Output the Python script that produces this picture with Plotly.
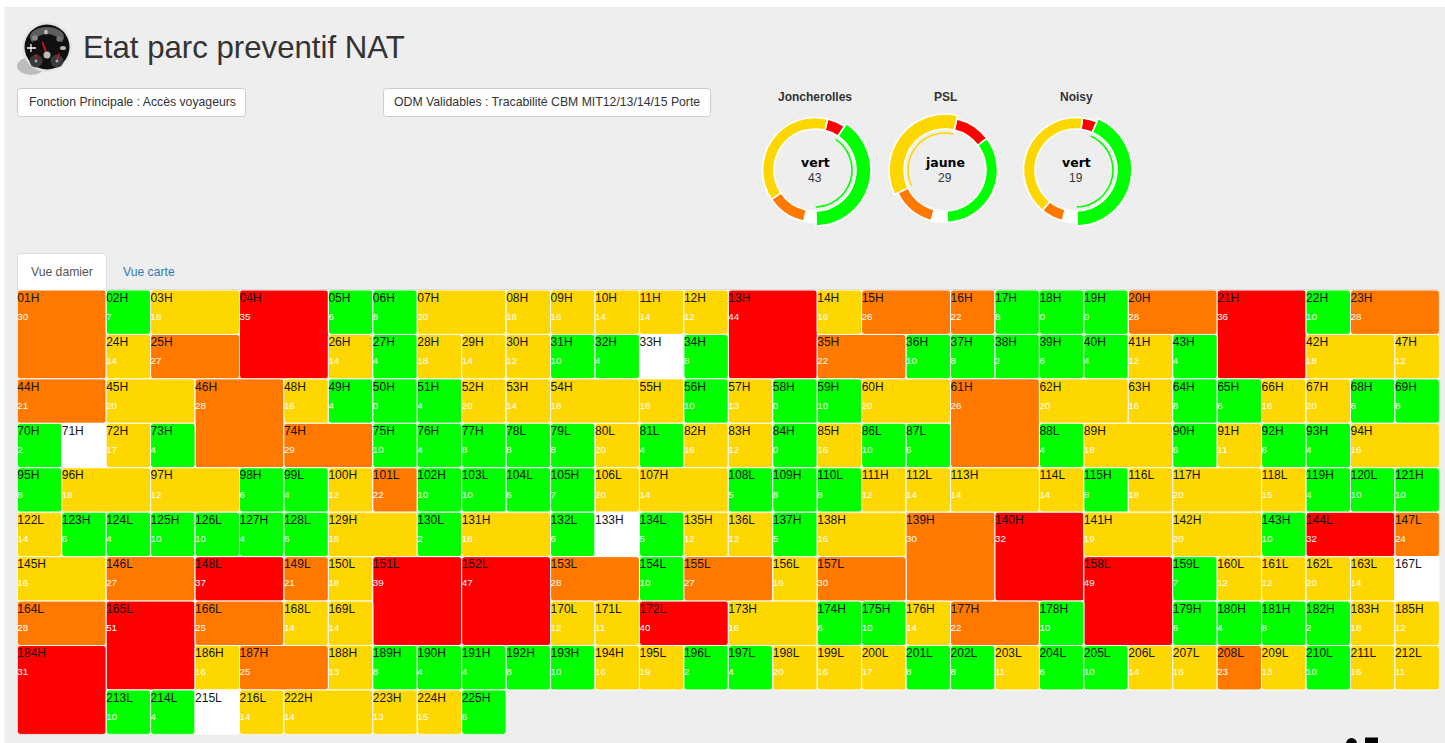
import plotly.graph_objects as go

W, H = 1445, 743
GRID_L, GRID_T, CELL = 17.3, 290.0, 44.44
COLS, ROWS = 32, 10

cell_names = """01H 02H 03H 04H 05H 06H 07H 08H 09H 10H 11H 12H 13H 14H 15H 16H 17H 18H 19H 20H 21H 22H 23H
24H 25H 26H 27H 28H 29H 30H 31H 32H 33H 34H 35H 36H 37H 38H 39H 40H 41H 42H 43H 44H 45H 46H 47H 48H 49H 50H
51H 52H 53H 54H 55H 56H 57H 58H 59H 60H 61H 62H 63H 64H 65H 66H 67H 68H 69H 70H 71H 72H 73H 74H 75H 76H 77H
78L 79L 80L 81L 82H 83H 84H 85H 86L 87L 88L 89H 90H 91H 92H 93H 94H 95H 96H 97H 98H 99L 100H 101L 102H 103L
104L 105H 106L 107H 108L 109H 110L 111H 112L 113H 114L 115H 116L 117H 118L 119H 120L 121H 122L 123H 124L 125H
126L 127H 128L 129H 130L 131H 132L 133H 134L 135H 136L 137H 138H 139H 140H 141H 142H 143H 144L 145H 146L 147L
148L 149L 150L 151L 152L 153L 154L 155L 156L 157L 158L 159L 160L 161L 162L 163L 164L 165L 166L 167L 168L 169L
170L 171L 172L 173H 174H 175H 176H 177H 178H 179H 180H 181H 182H 183H 184H 185H 186H 187H 188H 189H 190H 191H
192H 193H 194H 195L 196L 197L 198L 199L 200L 201L 202L 203L 204L 205L 206L 207L 208L 209L 210L 211L 212L
213L 214L 215L 216L 222H 223H 224H 225H""".split()

cell_values = [30,7,18,35,6,8,20,18,16,14,14,12,44,16,26,22,8,0,0,28,36,10,28,
14,27,14,4,18,14,12,10,4,None,8,22,10,8,2,6,4,12,18,4,21,20,28,12,16,4,0,
4,20,14,18,18,10,13,0,10,20,26,20,16,8,6,16,20,8,8,2,None,17,4,29,10,4,8,
8,8,20,4,16,12,0,16,10,6,4,18,6,11,6,4,16,8,18,12,6,4,12,22,10,10,
6,7,20,14,5,8,8,12,14,14,14,8,18,20,15,4,10,10,14,6,4,10,
10,4,6,18,2,18,6,None,5,12,12,5,16,30,32,19,20,10,32,16,27,24,
37,21,18,39,47,28,10,27,16,30,49,7,12,12,20,14,28,51,25,None,14,14,
12,11,40,16,6,10,14,22,10,6,4,8,2,18,31,12,16,25,13,8,4,4,
8,10,16,19,2,4,20,16,17,8,8,11,6,10,14,16,23,13,10,16,11,
10,4,None,14,14,13,15,6]

# g = vert, y = jaune, o = orange, r = rouge, w = sans donnee
cell_states = list(
 "o g y r g g y y y y y y r y o o g g g o r g o "
 "y o y g y y y g g w g o g g g g g y y g o y o y y g g "
 "g y y y y g y g g y o y y g g y y g g g w y g o g g g "
 "g g y g y y g y g g g y g y g g y g y y g g y o g g "
 "g g y y g g g y y y y g y y y g g g y g g g "
 "g g g y g y g w g y y g y o r y y g r y o o "
 "r o y r r o g o y o r g y y y y o r o w y y "
 "y y r y g g y o g g g g g y r y y o y g g g "
 "g g y y g g y y y g g y g g y y o y g y y "
 "g g w y y y y g".split())

# 1 = simple, 2 = double largeur, 4 = double largeur et hauteur
cell_tiers = list(
 "4 1 2 4 1 1 2 1 1 1 1 1 4 1 2 1 1 1 1 2 4 1 2 "
 "1 2 1 1 1 1 1 1 1 1 1 2 1 1 1 1 1 1 2 1 2 2 4 1 1 1 1 "
 "1 1 1 2 1 1 1 1 1 2 4 2 1 1 1 1 1 1 1 1 1 1 1 2 1 1 1 "
 "1 1 1 1 1 1 1 1 1 1 1 2 1 1 1 1 2 1 2 2 1 1 1 1 1 1 "
 "1 1 1 2 1 1 1 1 1 2 1 1 1 2 1 1 1 1 1 1 1 1 "
 "1 1 1 2 1 2 1 1 1 1 1 1 2 4 4 2 2 1 2 2 2 1 "
 "2 1 1 4 4 2 1 2 1 2 4 1 1 1 1 1 2 4 2 1 1 1 "
 "1 1 2 2 1 1 1 2 1 1 1 1 1 1 4 1 1 2 1 1 1 1 "
 "1 1 1 1 1 1 1 1 1 1 1 1 1 1 1 1 1 1 1 1 1 "
 "1 1 1 1 2 1 1 1".split())

state_colors = {"g": "#00ff00", "y": "#ffd700", "o": "#ff7800", "r": "#ff0000", "w": "#ffffff"}

site_names = ["Joncherolles", "PSL", "Noisy"]
site_labels = ["vert", "jaune", "vert"]
site_headline = [43, 29, 19]
ring_states = ["r", "g", "w", "o", "y"]
site_red = [6, 9, 2]
site_green = [43, 28, 19]
site_white = [4, 4, 2]
site_orange = [13, 11, 3]
site_yellow = [41, 29, 18]
site_start_deg = [14, 13, 7]
site_selected = ["g", "y", "g"]
site_center_px = [815, 945, 1076]
site_center_y = 170


def px(x):
    return x / W


def py(y):
    return 1 - y / H


def rrect(x0, y0, x1, y1, r=3):
    a, b, c, d = px(x0), px(x1), py(y0), py(y1)
    rx, ry = r / W, r / H
    return (f"M {a+rx} {c} L {b-rx} {c} Q {b} {c} {b} {c-ry} L {b} {d+ry} Q {b} {d} {b-rx} {d} "
            f"L {a+rx} {d} Q {a} {d} {a} {d+ry} L {a} {c-ry} Q {a} {c} {a+rx} {c} Z")


def shape_path(x0, y0, x1, y1, fill, line=None, r=3):
    return dict(type="path", xref="paper", yref="paper", path=rrect(x0, y0, x1, y1, r), fillcolor=fill,
                line=dict(color=line or fill, width=1 if line else 0), layer="below")


def circle(cx, cy, rx, ry, fill, layer="above"):
    return dict(type="circle", xref="paper", yref="paper", x0=px(cx - rx), x1=px(cx + rx), y0=py(cy + ry), y1=py(cy - ry),
                fillcolor=fill, line=dict(width=0), layer=layer)


def seg(x0, y0, x1, y1, color, width):
    return dict(type="line", xref="paper", yref="paper", x0=px(x0), y0=py(y0), x1=px(x1), y1=py(y1),
                line=dict(color=color, width=width))


def pack(tiers):
    """First-fit placement of the cells on the grid, in list order."""
    used = set()
    out = []
    for t in tiers:
        w = 1 if t == "1" else 2
        h = 2 if t == "4" else 1
        r = 0
        placed = False
        while not placed:
            for c in range(COLS - w + 1):
                cells = {(r + j, c + i) for j in range(h) for i in range(w)}
                if not cells & used:
                    used |= cells
                    out.append((c, r, w, h))
                    placed = True
                    break
            r += 1
    return out


layout_cells = pack(cell_tiers)
fig = go.Figure()

fig.add_trace(go.Bar(
    x=[c + w / 2 for c, r, w, h in layout_cells],
    width=[w for c, r, w, h in layout_cells],
    base=[r for c, r, w, h in layout_cells],
    y=[h for c, r, w, h in layout_cells],
    marker=dict(color=[state_colors[s] for s in cell_states], line=dict(color="#ffffff", width=1), cornerradius=3),
    hoverinfo="skip", showlegend=False, xaxis="x", yaxis="y"))

fig.add_trace(go.Scatter(
    x=[c + 0.0 for c, r, w, h in layout_cells],
    y=[r + 0.195 for c, r, w, h in layout_cells],
    text=cell_names, mode="text", textposition="middle right",
    textfont=dict(family="Liberation Sans", size=12, color="#141414"),
    hoverinfo="skip", showlegend=False))

fig.add_trace(go.Scatter(
    x=[c + 0.0 for (c, r, w, h), v in zip(layout_cells, cell_values) if v is not None],
    y=[r + 0.615 for (c, r, w, h), v in zip(layout_cells, cell_values) if v is not None],
    text=[str(v) for v in cell_values if v is not None], mode="text", textposition="middle right",
    textfont=dict(family="Liberation Sans", size=9.8, color="#ffffff"),
    hoverinfo="skip", showlegend=False))

polar_layouts = {}
annotations = []
OUT_R, IN_R, BIG_R, THIN_IN, THIN_OUT, DOM_R = 52.5, 41, 56, 36.2, 37.8, 62

for i, name in enumerate(site_names):
    key = "polar" if i == 0 else f"polar{i+1}"
    vals = [site_red[i], site_green[i], site_white[i], site_orange[i], site_yellow[i]]
    total = sum(vals)
    widths = [v / total * 360 for v in vals]
    thetas, acc = [], 0
    for w_ in widths:
        thetas.append(acc + w_ / 2)
        acc += w_
    sel = site_selected[i]
    fig.add_trace(go.Barpolar(
        theta=thetas, width=widths,
        base=[IN_R] * 5,
        r=[(BIG_R if s == sel else OUT_R) - IN_R for s in ring_states],
        marker=dict(color=[state_colors[s] for s in ring_states], line=dict(color="#ffffff", width=1.6)),
        subplot=key, hoverinfo="skip", showlegend=False))
    k = ring_states.index(sel)
    fig.add_trace(go.Barpolar(
        theta=[thetas[k]], width=[widths[k]], base=[THIN_IN], r=[THIN_OUT - THIN_IN],
        marker=dict(color=state_colors[sel], line=dict(width=0)),
        subplot=key, hoverinfo="skip", showlegend=False))
    cx = site_center_px[i]
    polar_layouts[key] = dict(
        domain=dict(x=[px(cx - DOM_R), px(cx + DOM_R)], y=[py(site_center_y + DOM_R), py(site_center_y - DOM_R)]),
        bgcolor="rgba(0,0,0,0)",
        radialaxis=dict(visible=False, range=[0, DOM_R]),
        angularaxis=dict(visible=False, direction="clockwise", rotation=90 - site_start_deg[i]),
        barmode="overlay")
    annotations += [
        dict(x=px(cx), y=py(96.5), text=f"<b>{name}</b>", font=dict(family="Liberation Sans", size=12, color="#333333")),
        dict(x=px(cx), y=py(162), text=f"<b>{site_labels[i]}</b>", font=dict(family="DejaVu Sans", size=12.5, color="#000000")),
        dict(x=px(cx), y=py(178.5), text=str(site_headline[i]), font=dict(family="Liberation Sans", size=12, color="#333333")),
    ]

annotations += [
    dict(x=px(81.5), y=py(48), text="Etat parc preventif NAT", xanchor="left", font=dict(family="Liberation Sans", size=31.2, color="#333333")),
    dict(x=px(132), y=py(102), text="Fonction Principale : Accès voyageurs", font=dict(family="Liberation Sans", size=12.25, color="#333333")),
    dict(x=px(547), y=py(102), text="ODM Validables : Tracabilité CBM MIT12/13/14/15 Porte", font=dict(family="Liberation Sans", size=12.25, color="#333333")),
    dict(x=px(62), y=py(271.5), text="Vue damier", font=dict(family="Liberation Sans", size=12.2, color="#555555")),
    dict(x=px(148.5), y=py(271.5), text="Vue carte", font=dict(family="Liberation Sans", size=12.2, color="#337ab7")),
]
for a in annotations:
    a.update(xref="paper", yref="paper", showarrow=False, yanchor="middle", borderpad=0)
    a.setdefault("xanchor", "center")

shapes = [
    dict(type="rect", xref="paper", yref="paper", x0=px(4.5), x1=1, y0=0, y1=py(7), fillcolor="#eeeeee", line=dict(width=0), layer="below"),
    shape_path(17.5, 88.5, 245.5, 116.5, "#ffffff", "#cccccc", 3),
    shape_path(383.5, 88.5, 710.5, 116.5, "#ffffff", "#cccccc", 3),
    dict(type="line", xref="paper", yref="paper", x0=px(17), x1=px(1439), y0=py(289.5), y1=py(289.5), line=dict(color="#dddddd", width=1), layer="below"),
    shape_path(17.5, 253.5, 106.5, 292, "#ffffff", "#dddddd", 3),
    # logo
    circle(31, 66, 14, 9, "#bcbcbc"),
    circle(47, 47, 25, 25, "#e4e4e4"),
    circle(47, 47, 22.5, 22.5, "#101010"),
    circle(47, 37, 17, 10, "#5e5e5e"),
    circle(47, 47, 15, 13, "#101010"),
    circle(36, 61, 6.5, 6.5, "#3a3a3a"),
    circle(57, 61, 6.5, 6.5, "#3a3a3a"),
    seg(36, 61, 36, 54, "#dd1111", 1.2),
    seg(57, 61, 59, 53, "#dd1111", 1.2),
    circle(36, 61, 1.5, 1.5, "#aaaaaa"),
    circle(57, 61, 1.5, 1.5, "#aaaaaa"),
    seg(46.5, 54, 42.5, 42, "#e01010", 1.8),
    circle(47, 55, 3.5, 3.5, "#bbbbbb"),
    seg(27, 48, 36, 48, "#ffffff", 1.5),
    seg(31, 44, 31, 52, "#ffffff", 1.2),
    circle(35, 38, 2.8, 2.8, "#8a8a8a"),
    circle(46, 32, 1.8, 2.5, "#c0c0c0"),
    circle(59, 39, 2.6, 2.6, "#777777"),
    circle(63, 48, 3, 2, "#b5b5b5"),
    # partial glyphs at the bottom edge
    circle(1351.5, 744, 5.5, 6, "#000000"),
    dict(type="rect", xref="paper", yref="paper", x0=px(1365), x1=px(1378), y0=0, y1=py(737.5), fillcolor="#000000", line=dict(width=0)),
]

fig.update_layout(
    width=W, height=H, autosize=False,
    margin=dict(l=0, r=0, t=0, b=0),
    paper_bgcolor="#ffffff", plot_bgcolor="rgba(0,0,0,0)",
    barmode="overlay", showlegend=False,
    xaxis=dict(domain=[px(GRID_L), px(GRID_L + CELL * COLS)], range=[0, COLS], visible=False, fixedrange=True),
    yaxis=dict(domain=[py(GRID_T + CELL * ROWS), py(GRID_T)], range=[ROWS, 0], visible=False, fixedrange=True),
    shapes=shapes, annotations=annotations, **polar_layouts)

fig.write_html("out.html", post_script="document.body.style.margin='0';document.body.style.overflow='hidden';",
               config={"displayModeBar": False})
